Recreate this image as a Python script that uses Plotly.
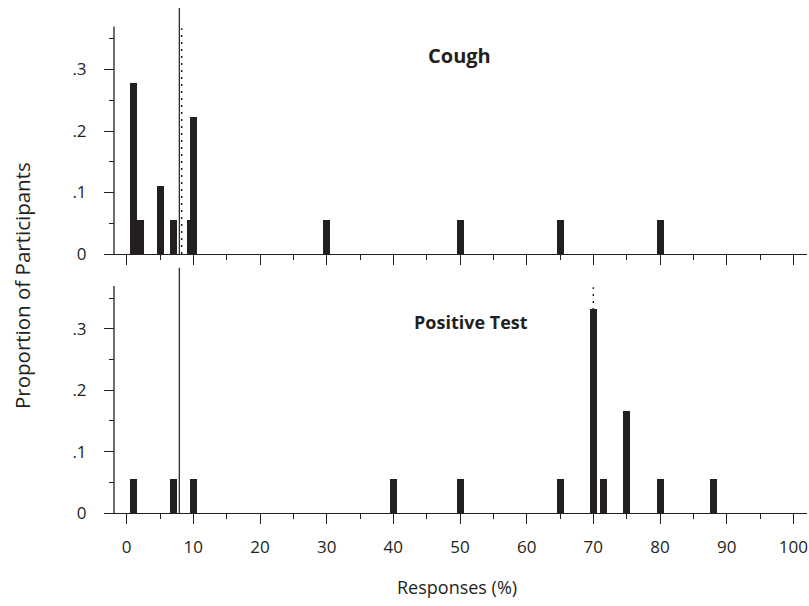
import numpy as np
import plotly.graph_objects as go

# ---------------- data ----------------
N_PARTICIPANTS = 18
cough_responses = [1, 2, 5, 7, 9.5, 10, 30, 50, 65, 80]
cough_counts = [5, 1, 2, 1, 1, 4, 1, 1, 1, 1]
test_responses = [1, 7, 10, 40, 50, 65, 70, 71.5, 75, 80, 88]
test_counts = [1, 1, 1, 1, 1, 1, 6, 1, 3, 1, 1]
reference_value = 7.9          # solid vertical line (both panels)
panel_titles = ["Cough", "Positive Test"]
x_tick_vals = list(range(0, 101, 10))
y_tick_vals = [0, 0.1, 0.2, 0.3]
y_tick_text = ["0", ".1", ".2", ".3"]
y_minor_vals = [0.05, 0.15, 0.25, 0.35]

cough_prop = [c / N_PARTICIPANTS for c in cough_counts]
test_prop = [c / N_PARTICIPANTS for c in test_counts]
cough_median = float(np.median(np.repeat(cough_responses, cough_counts)))
test_median = float(np.median(np.repeat(test_responses, test_counts)))

# ---------------- styling / layout ----------------
W, H = 809, 606
ML, MR, MT, MB = 104, 2, 8, 93
PW, PH = W - ML - MR, H - MT - MB
INK = "#231f20"
FONT = "Open Sans"

def px_x(px):
    return (px - ML) / PW

def px_y(py):
    return (H - MB - py) / PH

YMAX = 0.40
AXTOP = 0.37

fig = go.Figure()
fig.add_trace(go.Bar(x=cough_responses, y=cough_prop, width=1.05,
                     marker=dict(color=INK, line=dict(width=0)),
                     xaxis="x", yaxis="y", showlegend=False))
fig.add_trace(go.Bar(x=test_responses, y=test_prop, width=1.05,
                     marker=dict(color=INK, line=dict(width=0)),
                     xaxis="x2", yaxis="y2", showlegend=False))

top_dom = [px_y(254), 1.0]
bot_dom = [0.0, px_y(267.5)]

xcommon = dict(range=[-3.4, 102.05], showline=True, linecolor=INK, linewidth=1.3,
               ticks="outside", ticklen=10, tickwidth=1.2, tickcolor=INK,
               tickmode="array", tickvals=x_tick_vals, showgrid=False, zeroline=False,
               automargin=False,
               minor=dict(tickmode="array", tickvals=list(range(5, 100, 10)),
                          ticks="outside", ticklen=5, tickwidth=1.2, tickcolor=INK,
                          showgrid=False),
               tickfont=dict(family=FONT, size=17, color=INK))
ycommon = dict(range=[0, YMAX], showline=False, ticks="outside", ticklen=10,
               tickwidth=1.2, tickcolor=INK, tickmode="array", tickvals=y_tick_vals,
               ticktext=y_tick_text, showgrid=False, zeroline=False, automargin=False,
               anchor="free", position=px_x(114), ticklabelstandoff=14,
               minor=dict(tickmode="array", tickvals=y_minor_vals, ticks="outside",
                          ticklen=5, tickwidth=1.2, tickcolor=INK, showgrid=False),
               tickfont=dict(family=FONT, size=17, color=INK))

fig.update_layout(
    width=W, height=H, margin=dict(l=ML, r=MR, t=MT, b=MB, autoexpand=False),
    paper_bgcolor="white", plot_bgcolor="white", barmode="overlay", bargap=0,
    xaxis=dict(xcommon, anchor="y", domain=[0, 1], showticklabels=False),
    yaxis=dict(ycommon, domain=top_dom),
    xaxis2=dict(xcommon, anchor="y2", domain=[0, 1], showticklabels=True,
                ticklabelstandoff=8),
    yaxis2=dict(ycommon, domain=bot_dom),
)

shapes = []
for yref in ["y", "y2"]:
    # y axis line (stops below the top of the range)
    shapes.append(dict(type="line", xref="paper", yref=yref, x0=px_x(114), x1=px_x(114),
                       y0=0, y1=AXTOP, line=dict(color=INK, width=1.3)))
    # solid reference line
    xr = "x" if yref == "y" else "x2"
    shapes.append(dict(type="line", xref=xr, yref=yref, x0=reference_value,
                       x1=reference_value, y0=0, y1=YMAX, line=dict(color=INK, width=1.2)))
shapes.append(dict(type="line", xref="x", yref="y", x0=cough_median, x1=cough_median,
                   y0=0, y1=0.367, layer="below",
                   line=dict(color=INK, width=1.5, dash="2px,5px")))
shapes.append(dict(type="line", xref="x2", yref="y2", x0=test_median, x1=test_median,
                   y0=0, y1=0.368, layer="below",
                   line=dict(color=INK, width=1.5, dash="2px,5px")))
fig.update_layout(shapes=shapes)

ann = [
    dict(text="<b>" + panel_titles[0] + "</b>", x=px_x(459), y=px_y(56), size=20),
    dict(text="<b>" + panel_titles[1] + "</b>", x=px_x(471), y=px_y(322), size=18),
]
annotations = []
for a in ann:
    sz = a.pop("size")
    annotations.append(dict(a, xref="paper", yref="paper", showarrow=False,
                            xanchor="center", yanchor="middle",
                            font=dict(family=FONT, size=sz, color=INK)))
annotations.append(dict(text="Proportion of Participants", xref="paper", yref="paper",
                        x=px_x(22), y=px_y(286), textangle=-90, showarrow=False,
                        xanchor="center", yanchor="middle",
                        font=dict(family=FONT, size=20.5, color=INK)))
annotations.append(dict(text="Responses (%)", xref="paper", yref="paper",
                        x=px_x(457), y=px_y(587), showarrow=False,
                        xanchor="center", yanchor="middle",
                        font=dict(family=FONT, size=18, color=INK)))
fig.update_layout(annotations=annotations)

fig.write_html("out.html", config={"displayModeBar": False},
               post_script="document.body.style.margin='0px';"
                           "document.body.style.overflow='hidden';")
